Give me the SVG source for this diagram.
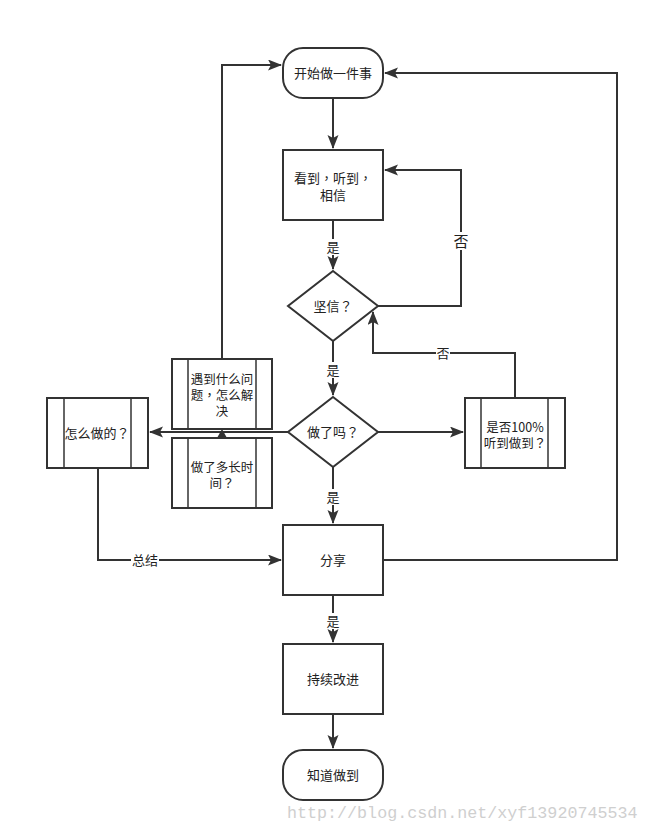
<svg xmlns="http://www.w3.org/2000/svg" width="649" height="832" viewBox="0 0 649 832">
<style>
.shape{fill:#fff;stroke:#333;stroke-width:2}
.inner{fill:none;stroke:#333;stroke-width:1.5}
.t{font-family:"Noto Sans CJK SC","Noto Sans",sans-serif;font-size:13px;fill:#222;text-anchor:middle}
.m{font-size:12.5px}
.p{font-family:"Noto Sans CJK TC","Noto Sans CJK SC",sans-serif}
.lbl{font-family:"Noto Sans CJK SC","Noto Sans",sans-serif;font-size:13px;fill:#222;text-anchor:middle}
.edge{fill:none;stroke:#333;stroke-width:2}
.bg{fill:#fff}
.wm{font-family:"Liberation Mono",monospace;font-size:16.7px;fill:#cfcfcf}
</style>
<defs>
<marker id="arr" markerUnits="userSpaceOnUse" markerWidth="16" markerHeight="12" refX="13" refY="5.5" orient="auto">
<path d="M0,0 L14,5.5 L0,11 L3,5.5 Z" fill="#333"/>
</marker>
</defs>
<rect width="649" height="832" fill="#fff"/>

<g id="connectors">
<path class="edge" d="M333,98 V148" marker-end="url(#arr)"/>
<path class="edge" d="M333,220 V269" marker-end="url(#arr)"/>
<path class="edge" d="M333,341 V395" marker-end="url(#arr)"/>
<path class="edge" d="M333,467 V523" marker-end="url(#arr)"/>
<path class="edge" d="M333,595 V642" marker-end="url(#arr)"/>
<path class="edge" d="M333,714 V748" marker-end="url(#arr)"/>
<path class="edge" d="M378,306 H461 V170 H385" marker-end="url(#arr)"/>
<path class="edge" d="M515,398 V353 H373 V312" marker-end="url(#arr)"/>
<path class="edge" d="M378,432 H463" marker-end="url(#arr)"/>
<path class="edge" d="M288,432 H150" marker-end="url(#arr)"/>
<path d="M222,438 V434" stroke="#333" stroke-width="2"/>
<path d="M217,438 L222,429 L227,438 Z" fill="#333"/>
<path class="edge" d="M222,359 V65 H281" marker-end="url(#arr)"/>
<path class="edge" d="M98,468 V560 H281" marker-end="url(#arr)"/>
<path class="edge" d="M383,560 H617 V73 H385" marker-end="url(#arr)"/>
<rect class="bg" x="326" y="239" width="14" height="16"/>
<text class="lbl" x="333" y="252">是</text>
<rect class="bg" x="326" y="362" width="14" height="16"/>
<text class="lbl" x="333" y="375">是</text>
<rect class="bg" x="326" y="489" width="14" height="16"/>
<text class="lbl" x="333" y="502">是</text>
<rect class="bg" x="326" y="613" width="14" height="16"/>
<text class="lbl" x="333" y="626">是</text>
<rect class="bg" x="453" y="232" width="16" height="18"/>
<text class="lbl" x="461" y="247" style="font-size:15px">否</text>
<rect class="bg" x="436" y="345" width="14" height="16"/>
<text class="lbl" x="443" y="358">否</text>
<rect class="bg" x="131" y="552" width="28" height="16"/>
<text class="lbl" x="145" y="565">总结</text>
</g>

<g id="start">
<rect class="shape" x="283" y="48" width="100" height="50" rx="20" ry="20"/>
<text class="t" x="333" y="78">开始做一件事</text>
</g>
<g id="see">
<rect class="shape" x="283" y="150" width="100" height="70"/>
<text class="t" x="333" y="183">看到<tspan class="p">，</tspan>听到<tspan class="p">，</tspan></text>
<text class="t" x="333" y="200">相信</text>
</g>
<g id="believe">
<polygon class="shape" points="333,271 378,306 333,341 288,306"/>
<text class="t" x="333" y="311">坚信<tspan class="p">？</tspan></text>
</g>
<g id="done">
<polygon class="shape" points="333,397 378,432 333,467 288,432"/>
<text class="t" x="333" y="437">做了吗<tspan class="p">？</tspan></text>
</g>
<g id="problem">
<rect class="shape" x="172" y="359" width="100" height="70"/>
<line class="inner" x1="188" y1="359" x2="188" y2="429"/>
<line class="inner" x1="256" y1="359" x2="256" y2="429"/>
<text class="t m" x="222" y="384">遇到什么问</text>
<text class="t m" x="222" y="400">题<tspan class="p">，</tspan>怎么解</text>
<text class="t m" x="222" y="416">决</text>
</g>
<g id="duration">
<rect class="shape" x="172" y="438" width="100" height="70"/>
<line class="inner" x1="188" y1="438" x2="188" y2="508"/>
<line class="inner" x1="256" y1="438" x2="256" y2="508"/>
<text class="t m" x="222" y="472">做了多长时</text>
<text class="t m" x="222" y="488">间<tspan class="p">？</tspan></text>
</g>
<g id="how">
<rect class="shape" x="47" y="398" width="101" height="70"/>
<line class="inner" x1="64" y1="398" x2="64" y2="468"/>
<line class="inner" x1="131" y1="398" x2="131" y2="468"/>
<text class="t" x="97" y="438">怎么做的<tspan class="p">？</tspan></text>
</g>
<g id="percent">
<rect class="shape" x="465" y="398" width="100" height="70"/>
<line class="inner" x1="481" y1="398" x2="481" y2="468"/>
<line class="inner" x1="548" y1="398" x2="548" y2="468"/>
<text class="t m" x="515" y="432">是否100%</text>
<text class="t m" x="515" y="448">听到做到<tspan class="p">？</tspan></text>
</g>
<g id="share">
<rect class="shape" x="283" y="525" width="100" height="70"/>
<text class="t" x="333" y="565">分享</text>
</g>
<g id="improve">
<rect class="shape" x="283" y="644" width="100" height="70"/>
<text class="t" x="333" y="684">持续改进</text>
</g>
<g id="know">
<rect class="shape" x="283" y="750" width="100" height="50" rx="20" ry="20"/>
<text class="t" x="333" y="780">知道做到</text>
</g>
<text class="wm" x="287" y="818">http://blog.csdn.net/xyf13920745534</text>
</svg>
